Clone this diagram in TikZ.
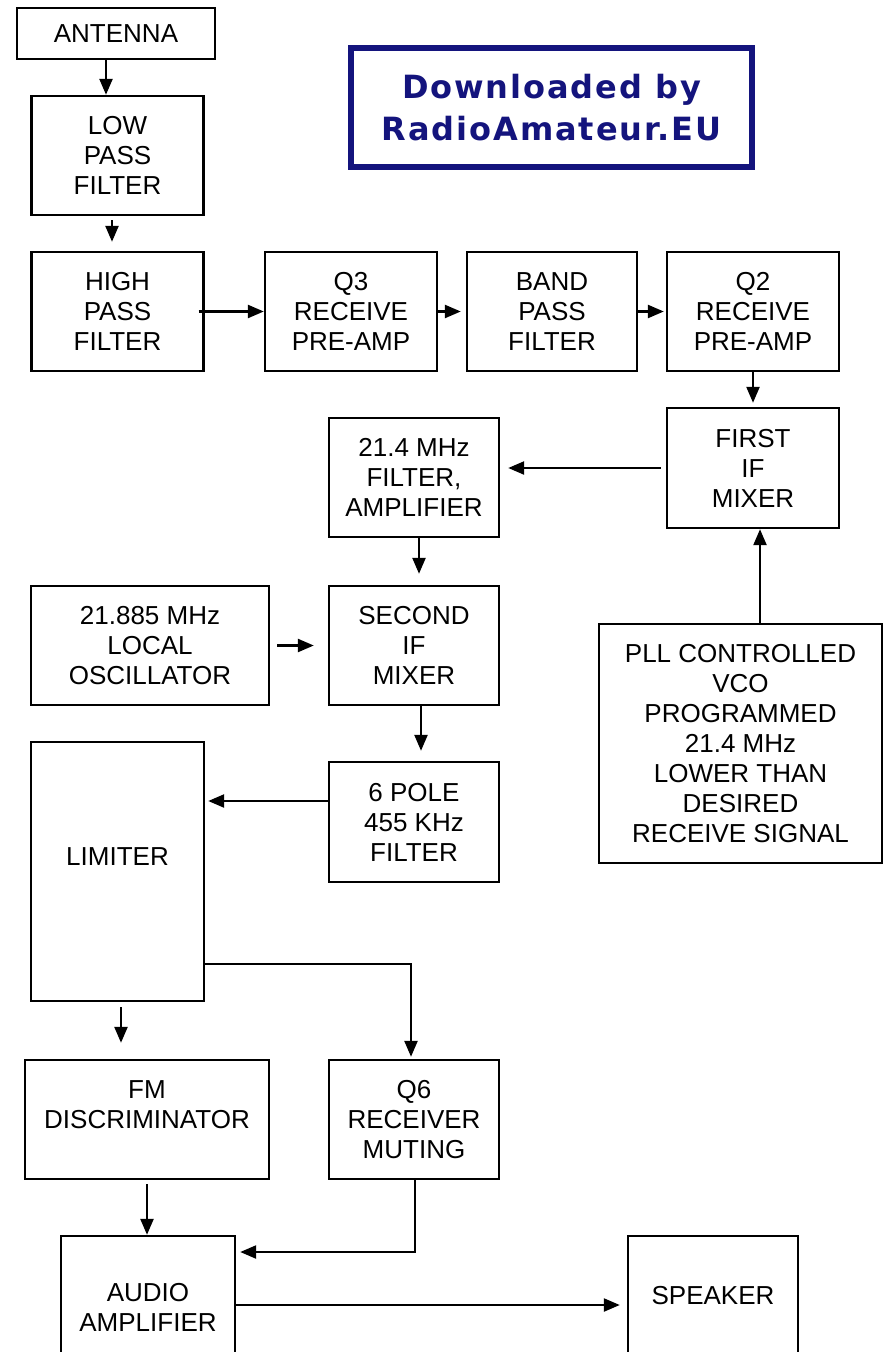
\documentclass[tikz,border=0pt]{standalone}
\usepackage{fontspec}
\setmainfont{Liberation Sans}
\newfontfamily\markfont[LetterSpace=6]{DejaVu Sans}
\usepackage{tikz}
\usetikzlibrary{arrows.meta}
\definecolor{markblue}{RGB}{20,20,125}

\begin{document}
\begin{tikzpicture}[
  x=0.5pt, y=-0.5pt,
  blk/.style={draw, line width=1.2pt, rectangle, inner sep=0pt, align=center, minimum width=86pt, minimum height=59.5pt, font=\fontsize{13pt}{15pt}\selectfont},
  stamp/.style={draw=markblue, line width=3pt, rectangle, align=center, text=markblue, font=\markfont\bfseries\fontsize{16pt}{21pt}\selectfont},
  arr/.style={-{Triangle[length=8pt, width=6.5pt]}, line width=1.2pt}
]
\clip (0,0) rectangle (886,1352);
\fill[white] (0,0) rectangle (886,1352);
\node[stamp, minimum width=200.5pt, minimum height=59.5pt] (wm) at (551.5,107.5) {Downloaded by\\RadioAmateur.EU};
\node[blk, minimum width=99pt, minimum height=25.5pt] (ant) at (116,33.5) {ANTENNA};
\node[blk] (lpf) at (117.5,155.5) {LOW\\PASS\\FILTER};
\node[blk] (hpf) at (117.5,311.5) {HIGH\\PASS\\FILTER};
\node[blk] (q3) at (351,311.5) {Q3\\RECEIVE\\PRE-AMP};
\node[blk, minimum width=85pt] (bpf) at (552,311.5) {BAND\\PASS\\FILTER};
\node[blk] (q2) at (753,311.5) {Q2\\RECEIVE\\PRE-AMP};
\node[blk, minimum height=60pt] (mix1) at (753,468) {FIRST\\IF\\MIXER};
\node[blk, minimum width=85pt] (filt21) at (414,477.5) {21.4 MHz\\FILTER,\\AMPLIFIER};
\node[blk, minimum width=119pt] (lo) at (150,645.5) {21.885 MHz\\LOCAL\\OSCILLATOR};
\node[blk, minimum width=85pt] (mix2) at (414,645.5) {SECOND\\IF\\MIXER};
\node[blk, minimum width=141.5pt, minimum height=119.5pt] (pll) at (740.5,743.5) {PLL CONTROLLED\\VCO\\PROGRAMMED\\21.4 MHz\\LOWER THAN\\DESIRED\\RECEIVE SIGNAL};
\node[blk, minimum width=86.5pt, minimum height=129.5pt] (lim) at (117.5,871.5) {LIMITER\\\mbox{}};
\node[blk, minimum width=85pt, minimum height=60pt] (f455) at (414,822) {6 POLE\\455 KHz\\FILTER};
\node[blk, minimum width=122pt] (fm) at (147,1119.5) {FM\\DISCRIMINATOR\\\mbox{}};
\node[blk, minimum width=85pt] (q6) at (414,1119.5) {Q6\\RECEIVER\\MUTING};
\node[blk, minimum width=87pt, minimum height=71pt] (aud) at (148,1307) {AUDIO\\AMPLIFIER};
\node[blk, minimum width=85pt, minimum height=60pt] (spk) at (713,1296) {SPEAKER};
\draw[arr] ([xshift=-5pt]ant.south) -- ([xshift=-5pt]ant.south |- lpf.north);
\draw[arr, shorten <=2pt, shorten >=4.5pt] ([xshift=-2.75pt]lpf.south) -- ([xshift=-2.75pt]lpf.south |- hpf.north);
\draw[arr, shorten <=-3pt] (hpf.east) -- (q3.west);
\draw[arr, shorten >=2.5pt] (q3.east) -- (bpf.west);
\draw[arr, shorten >=1pt] (bpf.east) -- (q2.west);
\draw[arr, shorten >=2pt] (q2.south) -- (mix1.north);
\draw[arr, shorten <=2.5pt, shorten >=4pt] (mix1.west) -- (mix1.west -| filt21.east);
\draw[arr, shorten >=5.5pt] ([xshift=2.5pt]filt21.south) -- ([xshift=2.5pt]filt21.south |- mix2.north);
\draw[arr, shorten <=3.5pt, shorten >=7pt] (lo.east) -- (mix2.west);
\draw[arr, shorten >=5pt] ([xshift=3.5pt]mix2.south) -- ([xshift=3.5pt]mix2.south |- f455.north);
\draw[arr, shorten >=1.5pt] ([yshift=10.5pt]f455.west) -- ([yshift=10.5pt]f455.west -| lim.east);
\draw[arr] ([xshift=9.75pt]pll.north) -- ([xshift=9.75pt]pll.north |- mix1.south);
\draw[arr, shorten <=2.5pt, shorten >=8pt] ([xshift=1.75pt]lim.south) -- ([xshift=1.75pt]lim.south |- fm.north);
\draw[arr, shorten >=1pt] ([yshift=-46.25pt]lim.east) -| ([xshift=-1.5pt]q6.north);
\draw[arr, shorten <=2pt] (fm.south) -- (fm.south |- aud.north);
\draw[arr, shorten >=2pt] ([xshift=0.5pt]q6.south) |- ([yshift=27.5pt]aud.east);
\draw[arr, shorten >=3.5pt] ([yshift=1pt]aud.east) -- ([yshift=1pt]aud.east -| spk.west);
\end{tikzpicture}
\end{document}
